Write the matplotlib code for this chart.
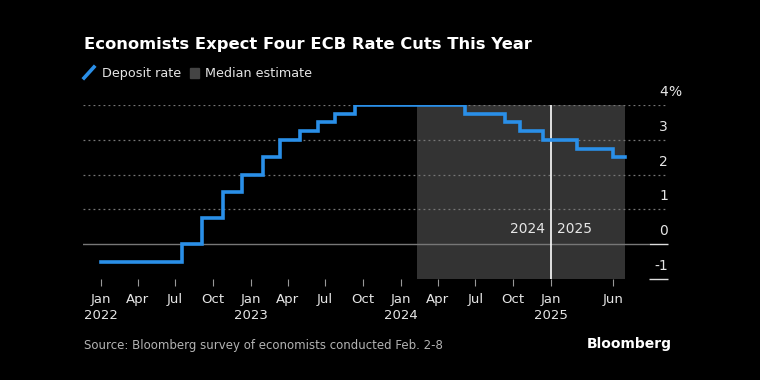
import matplotlib
matplotlib.use("Agg")
import matplotlib.pyplot as plt
import matplotlib.dates as mdates
import numpy as np
from matplotlib.lines import Line2D
from matplotlib.patches import Rectangle

plt.rcParams['font.family'] = 'DejaVu Sans'

# =========================
# Data
# =========================
step_dates = ['2022-01-01', '2022-07-18', '2022-09-05', '2022-10-25', '2022-12-12',
              '2023-01-31', '2023-03-13', '2023-05-02', '2023-06-13', '2023-07-26',
              '2023-09-13', '2024-06-05', '2024-09-12', '2024-10-17', '2024-12-12',
              '2025-03-06', '2025-06-01', '2025-06-30']
deposit_rate = [-0.5, 0.0, 0.75, 1.5, 2.0,
                2.5, 3.0, 3.25, 3.5, 3.75,
                4.0, 3.75, 3.5, 3.25, 3.0,
                2.75, 2.5, 2.5]

estimate_start = '2024-02-09'
estimate_end = '2025-06-30'
year_split = '2025-01-01'

tick_dates = ['2022-01-01', '2022-04-01', '2022-07-01', '2022-10-01',
              '2023-01-01', '2023-04-01', '2023-07-01', '2023-10-01',
              '2024-01-01', '2024-04-01', '2024-07-01', '2024-10-01',
              '2025-01-01', '2025-06-01']
tick_labels = ['Jan\n2022', 'Apr', 'Jul', 'Oct',
               'Jan\n2023', 'Apr', 'Jul', 'Oct',
               'Jan\n2024', 'Apr', 'Jul', 'Oct',
               'Jan\n2025', 'Jun']
y_ticks = [4, 3, 2, 1, 0, -1]

# =========================
# Style
# =========================
BG = '#000000'
BLUE = '#2a8fe8'
SHADE = '#333333'
GRID = '#777777'
TEXT = '#e6e6e6'

x = mdates.datestr2num(step_dates)

fig = plt.figure(figsize=(7.6, 3.8), dpi=100, facecolor=BG)
ax = fig.add_axes([83 / 760, 101 / 380, 585 / 760, 174 / 380])
ax.set_facecolor(BG)

# zona de estimación y separación de años
ax.axvspan(mdates.datestr2num(estimate_start), mdates.datestr2num(estimate_end),
           color=SHADE, lw=0, zorder=1)
ax.axvline(mdates.datestr2num(year_split), color='white', lw=1.2, zorder=3)

# gridlines
for v in y_ticks:
    if v in (0, -1):
        continue
    ax.axhline(v, color=GRID, lw=0.9, ls=(0, (1.5, 2.5)), zorder=2)
ax.axhline(0, xmax=(648 - 83) / 585, color='#777777', lw=1.0, zorder=2)
ax.hlines([0, -1], (649 - 83) / 585, 1.0, transform=ax.get_yaxis_transform(),
          color='#dddddd', lw=1.0, zorder=2, clip_on=False)

# deposit rate
ax.step(x, deposit_rate, where='post', color=BLUE, lw=2.6, zorder=4,
        solid_joinstyle='miter')

ax.set_xlim(mdates.datestr2num('2021-11-19'), mdates.datestr2num('2025-10-13'))
ax.set_ylim(-1, 4)

for s in ax.spines.values():
    s.set_visible(False)

ax.set_xticks(mdates.datestr2num(tick_dates))
ax.set_xticklabels(tick_labels, ha='center', va='top', linespacing=1.35)
ax.tick_params(axis='x', colors='#999999', length=5, width=0.8, pad=5,
               labelcolor=TEXT, labelsize=9.5)
ax.set_yticks([])

# etiquetas del eje y sobre las líneas
for v in y_ticks:
    lab = '-1' if v == -1 else str(v)
    ax.text(1.0, v + 0.17, lab, transform=ax.get_yaxis_transform(), ha='right',
            va='bottom', color=TEXT, fontsize=10, clip_on=False)
ax.text(1.0, 4 + 0.17, '%', transform=ax.get_yaxis_transform(), ha='left',
        va='bottom', color=TEXT, fontsize=10, clip_on=False)

# year annotations
ax.text(mdates.datestr2num(year_split) - 14, 0.43, '2024', ha='right', va='center',
        color=TEXT, fontsize=10, zorder=5)
ax.text(mdates.datestr2num(year_split) + 16, 0.43, '2025', ha='left', va='center',
        color=TEXT, fontsize=10, zorder=5)

# title and legend
fig.text(84 / 760, 1 - 45 / 380, 'Economists Expect Four ECB Rate Cuts This Year',
         color='white', fontsize=11.8, fontweight='bold', va='center', ha='left')
fig.add_artist(Line2D([84 / 760, 94 / 760], [1 - 78 / 380, 1 - 67 / 380],
                      color=BLUE, lw=2.6, transform=fig.transFigure))
fig.text(102 / 760, 1 - 73.5 / 380, 'Deposit rate', color=TEXT, fontsize=9.2,
         va='center', ha='left')
fig.add_artist(Rectangle((190 / 760, 1 - 78 / 380), 9 / 760, 10 / 380,
                         color='#444444', transform=fig.transFigure))
fig.text(205 / 760, 1 - 73.5 / 380, 'Median estimate', color=TEXT, fontsize=9.2,
         va='center', ha='left')

# footer
fig.text(84 / 760, 1 - 345 / 380, 'Source: Bloomberg survey of economists conducted Feb. 2-8',
         color='#b3b3b3', fontsize=8.5, va='center', ha='left')
fig.text(672 / 760, 1 - 344 / 380, 'Bloomberg', color='white', fontsize=10,
         fontweight='bold', va='center', ha='right')

fig.savefig('out.png', dpi=100, facecolor=BG)
plt.close(fig)
